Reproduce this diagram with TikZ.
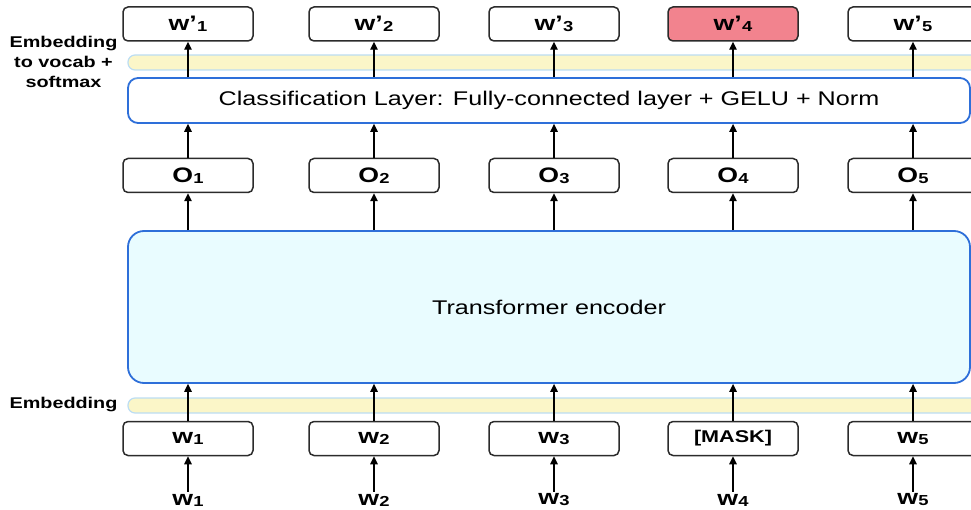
\documentclass[tikz,border=0pt]{standalone}
\usepackage{fontspec}
\setmainfont{Liberation Sans}[FakeStretch=1.27]
\usetikzlibrary{arrows.meta}
\definecolor{boxline}{HTML}{2B2B2B}
\definecolor{layerblue}{HTML}{2E6FD9}
\definecolor{bandfill}{HTML}{FBF6C8}
\definecolor{bandline}{HTML}{BCDDF3}
\definecolor{encfill}{HTML}{E9FCFF}
\definecolor{maskred}{HTML}{F2838E}
\newcommand\tok[2]{#1\kern0.3pt{\fontsize{14.5}{15}\selectfont\raisebox{-1pt}{#2}}}
\begin{document}
\begin{tikzpicture}[x=1pt,y=1pt,
  tokbox/.style={draw=boxline, line width=1.5pt, rounded corners=5pt,
    minimum width=130pt, minimum height=34pt, fill=white, inner sep=0pt,
    font=\fontsize{21}{23}\selectfont\bfseries},
  inlabel/.style={inner sep=2pt, font=\fontsize{21}{23}\selectfont\bfseries},
  sidelabel/.style={align=center, inner sep=0pt,
    font=\fontsize{15.6}{20}\selectfont\bfseries},
  band/.style={draw=bandline, line width=1.2pt, fill=bandfill,
    rounded corners=7pt, minimum height=15pt, inner sep=0pt},
  layerbox/.style={draw=layerblue, line width=1.8pt, inner sep=0pt,
    font=\fontsize{19.8}{22}\selectfont},
  arr/.style={draw=black, line width=1.4pt, -{Triangle[length=8pt,width=7.5pt]}}
]
\useasboundingbox (0,0) rectangle (971,-510);
\clip (0,0) rectangle (971,-510);

% embedding bands
\node[band, minimum width=860pt] (bandtop) at (558,-62.5) {};
\node[band, minimum width=860pt] (bandbot) at (558,-405.5) {};

% side labels
\node[sidelabel] (lbltop) at (63.5,-61.5) {Embedding\\to vocab +\\softmax};
\node[sidelabel] (lblbot) at (63.5,-404) {Embedding};

% layers
\node[layerbox, fill=white, rounded corners=10pt, minimum width=842pt, minimum height=45pt]
  (cls) at (549,-100.5) {Classification Layer: Fully-connected layer + GELU + Norm};
\node[layerbox, fill=encfill, rounded corners=16pt, minimum width=842pt, minimum height=152pt]
  (enc) at (549,-307) {Transformer encoder};

% columns
\foreach \i/\x/\inp/\lab in {1/188/\tok{w}{1}/\tok{w}{1},
                        2/374/\tok{w}{2}/\tok{w}{2},
                        3/554/\tok{w}{3}/\tok{w}{3},
                        4/733/{\fontsize{17}{18}\selectfont [MASK]}/\tok{w}{4},
                        5/913/\tok{w}{5}/\tok{w}{5}} {
  \node[tokbox] (w\i) at (\x,-438.5) {\inp};
  \node[inlabel] (in\i) at (\x,-500) {\lab};
  \node[tokbox] (o\i) at (\x,-175.5) {\tok{O}{\i}};
}
\foreach \i/\x in {1/188,2/374,3/554,5/913} {
  \node[tokbox] (p\i) at (\x,-24) {\tok{w’}{\i}};
}
\node[tokbox, fill=maskred] (p4) at (733,-24) {\tok{w’}{4}};

% arrows
\foreach \i in {1,...,5} {
  \draw[arr] (in\i.north) -- (w\i.south);
  \draw[arr] (w\i.north) -- (w\i.north |- enc.south);
  \draw[arr] (o\i.south |- enc.north) -- (o\i.south);
  \draw[arr] (o\i.north) -- (o\i.north |- cls.south);
  \draw[arr] (p\i.south |- cls.north) -- (p\i.south);
}
\end{tikzpicture}
\end{document}
